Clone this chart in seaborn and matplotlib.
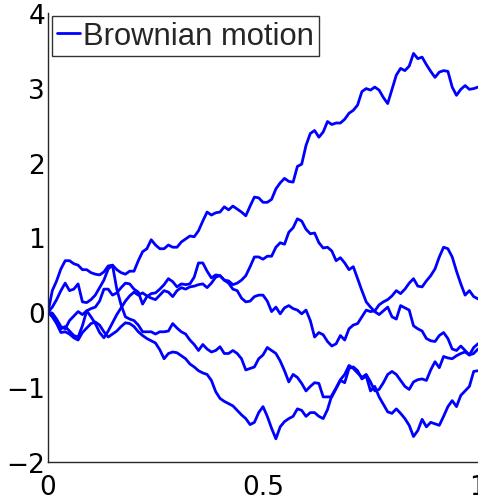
import numpy as np
import pandas as pd
import matplotlib
matplotlib.use("Agg")
import matplotlib.pyplot as plt
from matplotlib.font_manager import FontProperties
import seaborn as sns

# Time grid shared by all sample paths
t = np.linspace(0.0, 1.0, 101)

# Five sampled Brownian paths W(t), one value per grid time
path_a = [0.00, 0.29, 0.42, 0.58, 0.69, 0.69, 0.65, 0.63, 0.57, 0.57,
          0.53, 0.51, 0.50, 0.54, 0.62, 0.63, 0.57, 0.53, 0.51, 0.55,
          0.55, 0.69, 0.81, 0.85, 0.97, 0.90, 0.85, 0.85, 0.90, 0.87,
          0.87, 0.94, 0.98, 1.02, 1.01, 1.09, 1.22, 1.34, 1.30, 1.33,
          1.34, 1.41, 1.37, 1.42, 1.38, 1.34, 1.29, 1.42, 1.54, 1.53,
          1.47, 1.47, 1.51, 1.65, 1.73, 1.79, 1.75, 1.74, 1.95, 1.98,
          2.23, 2.39, 2.43, 2.34, 2.41, 2.55, 2.51, 2.53, 2.53, 2.58,
          2.66, 2.70, 2.77, 2.95, 2.99, 2.97, 3.01, 2.97, 2.87, 2.79,
          2.98, 3.17, 3.26, 3.23, 3.29, 3.46, 3.39, 3.41, 3.31, 3.22,
          3.14, 3.21, 3.23, 3.22, 3.01, 2.90, 2.98, 3.03, 2.98, 2.99,
          3.01]

path_b = [0.00, -0.03, -0.11, -0.22, -0.19, -0.25, -0.31, -0.33, -0.18, 0.02,
          0.05, 0.07, 0.15, 0.31, 0.31, 0.23, 0.26, 0.33, 0.39, 0.38,
          0.31, 0.27, 0.11, 0.21, 0.25, 0.26, 0.31, 0.37, 0.45, 0.41,
          0.34, 0.38, 0.37, 0.38, 0.47, 0.66, 0.66, 0.55, 0.46, 0.50,
          0.49, 0.43, 0.39, 0.31, 0.29, 0.19, 0.14, 0.15, 0.21, 0.23,
          0.23, 0.15, 0.01, 0.07, -0.02, 0.06, 0.09, 0.05, 0.03, -0.02,
          0.03, -0.11, -0.33, -0.27, -0.30, -0.39, -0.45, -0.42, -0.31, -0.37,
          -0.22, -0.17, -0.15, -0.06, 0.03, 0.01, 0.02, 0.10, 0.14, 0.17,
          0.22, 0.29, 0.25, 0.31, 0.39, 0.45, 0.35, 0.34, 0.42, 0.49,
          0.58, 0.74, 0.87, 0.85, 0.74, 0.55, 0.38, 0.23, 0.29, 0.21,
          0.18]

path_c = [0.00, -0.01, -0.09, -0.19, -0.22, -0.11, -0.05, 0.01, -0.03, 0.02,
          -0.06, -0.15, -0.27, -0.34, -0.25, -0.14, -0.03, 0.06, 0.15, 0.22,
          0.27, 0.23, 0.26, 0.22, 0.19, 0.17, 0.23, 0.29, 0.27, 0.21,
          0.29, 0.33, 0.31, 0.34, 0.35, 0.37, 0.38, 0.33, 0.39, 0.47,
          0.49, 0.43, 0.42, 0.37, 0.39, 0.43, 0.49, 0.61, 0.74, 0.74,
          0.71, 0.75, 0.75, 0.87, 0.93, 0.91, 1.07, 1.13, 1.25, 1.22,
          1.11, 1.05, 1.06, 0.93, 0.86, 0.87, 0.82, 0.69, 0.73, 0.66,
          0.57, 0.61, 0.45, 0.29, 0.14, 0.07, 0.01, -0.03, 0.02, 0.07,
          -0.06, -0.09, 0.09, 0.06, 0.03, -0.18, -0.22, -0.25, -0.35, -0.38,
          -0.39, -0.31, -0.27, -0.35, -0.49, -0.51, -0.45, -0.51, -0.57, -0.47,
          -0.42]

path_d = [0.00, 0.07, 0.17, 0.29, 0.39, 0.29, 0.31, 0.38, 0.14, 0.13,
          0.17, 0.23, 0.33, 0.43, 0.58, 0.63, 0.31, 0.10, -0.06, -0.09,
          -0.11, -0.17, -0.26, -0.26, -0.26, -0.29, -0.26, -0.26, -0.25, -0.15,
          -0.21, -0.26, -0.29, -0.37, -0.43, -0.51, -0.43, -0.49, -0.53, -0.51,
          -0.46, -0.55, -0.55, -0.51, -0.55, -0.62, -0.77, -0.75, -0.73, -0.62,
          -0.57, -0.47, -0.51, -0.55, -0.65, -0.78, -0.93, -0.83, -0.87, -0.95,
          -1.05, -0.99, -0.94, -0.95, -1.13, -1.13, -1.13, -1.02, -0.91, -0.94,
          -0.75, -0.73, -0.78, -0.89, -0.85, -1.05, -0.99, -1.13, -1.23, -1.33,
          -1.35, -1.29, -1.35, -1.42, -1.51, -1.66, -1.58, -1.43, -1.53, -1.47,
          -1.49, -1.51, -1.39, -1.26, -1.18, -1.26, -1.11, -1.05, -0.99, -0.79,
          -0.78]

path_e = [0.00, -0.06, -0.15, -0.27, -0.26, -0.29, -0.34, -0.37, -0.27, -0.21,
          -0.15, -0.13, -0.17, -0.26, -0.33, -0.29, -0.25, -0.19, -0.14, -0.15,
          -0.19, -0.26, -0.31, -0.35, -0.38, -0.41, -0.50, -0.62, -0.55, -0.53,
          -0.54, -0.58, -0.62, -0.69, -0.73, -0.78, -0.81, -0.83, -0.91, -1.06,
          -1.15, -1.19, -1.22, -1.25, -1.31, -1.37, -1.42, -1.50, -1.47, -1.34,
          -1.26, -1.39, -1.55, -1.69, -1.53, -1.46, -1.42, -1.39, -1.29, -1.31,
          -1.39, -1.34, -1.34, -1.39, -1.42, -1.30, -1.11, -1.01, -0.90, -0.83,
          -0.71, -0.75, -0.81, -0.87, -0.83, -0.93, -1.05, -1.03, -0.94, -0.83,
          -0.79, -0.83, -0.91, -0.99, -1.03, -0.93, -0.90, -0.89, -0.91, -0.77,
          -0.66, -0.74, -0.59, -0.61, -0.62, -0.58, -0.55, -0.53, -0.57, -0.55,
          -0.49]

paths = [path_a, path_b, path_c, path_d, path_e]

x_ticks = [0, 0.5, 1]
x_tick_labels = ["0", "0.5", "1"]
y_ticks = [-2, -1, 0, 1, 2, 3, 4]
legend_label = "Brownian motion"

df = pd.DataFrame({
    "t": np.tile(t, len(paths)),
    "W": np.concatenate([np.asarray(p, dtype=float) for p in paths]),
    "path": np.repeat(np.arange(len(paths)), len(t)),
})

sns.set_theme(style="white")
plt.rcParams["font.family"] = ["DejaVu Sans"]

fig = plt.figure(figsize=(4.78, 5.02), dpi=100)
ax = fig.add_axes([48 / 478, 39 / 502, 430 / 478, 449 / 502])

sns.lineplot(data=df, x="t", y="W", units="path", estimator=None,
             color="#0000ff", linewidth=2.0, legend=False, ax=ax,
             sort=False)

ax.set_xlim(0, 1)
ax.set_ylim(-2, 4)
ax.set_xticks(x_ticks)
ax.set_xticklabels(x_tick_labels)
ax.set_yticks(y_ticks)
ax.set_xlabel("")
ax.set_ylabel("")

for side in ("top", "right"):
    ax.spines[side].set_visible(False)
for side in ("left", "bottom"):
    ax.spines[side].set_color("#262626")
    ax.spines[side].set_linewidth(1.0)

ax.tick_params(axis="both", direction="in", length=5, width=0.8,
               colors="#262626", labelcolor="black", labelsize=19, pad=2)
ax.tick_params(axis="x", pad=9)

legend_font = FontProperties(family=["Liberation Sans", "DejaVu Sans"],
                             size=22.3)
leg = ax.legend(handles=[ax.lines[0]], labels=[legend_label],
                loc="upper left", bbox_to_anchor=(0.009, 0.993),
                borderaxespad=0, prop=legend_font, handlelength=0.75,
                handletextpad=0.1, borderpad=0.16, fancybox=False,
                frameon=True)
leg.get_frame().set_edgecolor("black")
leg.get_frame().set_linewidth(1.0)
leg.get_frame().set_boxstyle("square", pad=0)
leg.get_lines()[0].set_linewidth(2.0)

fig.savefig("out.png", dpi=100)
